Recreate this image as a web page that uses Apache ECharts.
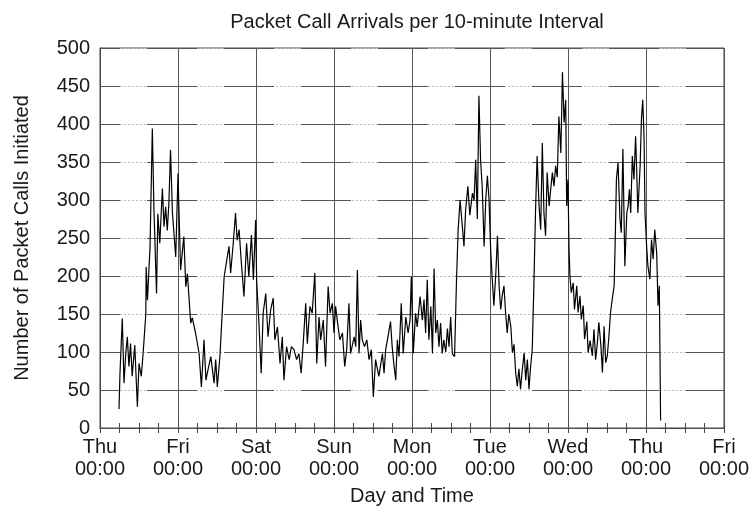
<!DOCTYPE html>
<html><head><meta charset="utf-8">
<script src="https://cdn.jsdelivr.net/npm/echarts/dist/echarts.min.js"></script>
<style>html,body{margin:0;padding:0;background:#fff}#c{width:752px;height:512px}</style>
</head><body><div id="c"></div>
<script>
const titleText = 'Packet Call Arrivals per 10-minute Interval';
const xName = 'Day and Time';
const yName = 'Number of Packet Calls Initiated';
const dayLabels = ['Thu','Fri','Sat','Sun','Mon','Tue','Wed','Thu','Fri'];
const timeLabel = '00:00';
// hours since the first Thursday 00:00
const hours = [
5.85,6.15,6.86,7.38,7.9,8.4,8.9,9.4,9.9,10.7,
11.5,12.0,12.7,13.3,14.1,14.2,14.6,15.4,16.1,16.6,
17.4,17.8,18.4,19.2,19.7,20.2,20.7,21.2,21.7,22.3,
22.8,23.3,24.0,24.8,25.8,26.4,26.9,27.9,28.4,29.4,
30.5,31.2,32.0,32.6,33.0,34.1,35.1,35.6,36.1,36.9,
37.6,38.2,39.0,39.7,40.2,41.0,41.7,42.2,42.8,43.5,
44.3,45.1,45.8,46.6,47.2,47.9,48.2,48.9,49.6,50.2,
51.0,51.7,52.5,53.3,53.8,54.6,55.4,56.1,56.6,57.4,
58.2,58.9,59.7,60.5,61.2,61.9,62.6,63.3,63.8,64.6,
65.3,66.1,66.7,67.4,67.9,68.7,69.4,70.2,70.8,71.5,
72.0,72.5,73.0,73.8,74.6,75.3,75.9,76.6,77.1,78.2,
78.7,79.2,79.7,80.2,80.7,81.4,82.1,82.8,83.5,84.1,
84.8,85.8,86.9,87.4,87.9,88.6,89.4,89.9,90.5,91.0,
91.5,92.0,92.7,93.3,94.1,94.8,95.4,95.8,96.4,97.1,
97.6,98.5,99.2,99.7,100.2,100.7,101.2,101.8,102.3,102.8,
103.3,103.8,104.3,104.8,105.3,105.8,106.4,106.9,107.4,107.9,
108.4,109.1,109.7,110.2,110.8,111.5,112.0,112.5,113.2,113.8,
114.6,115.1,115.6,116.1,116.6,117.1,117.6,118.2,118.7,119.2,
119.7,120.2,120.7,121.2,121.8,122.3,122.8,123.3,123.8,124.3,
124.8,125.3,125.8,126.4,126.9,127.4,127.9,128.4,128.9,129.4,
129.9,130.5,131.0,131.5,132.0,132.5,133.0,133.5,134.0,134.5,
135.1,135.6,136.1,136.6,137.1,137.6,138.2,138.7,139.2,139.7,
140.2,140.7,141.2,141.8,142.3,142.8,143.3,143.6,144.0,144.3,
144.6,145.0,145.6,146.0,146.7,147.1,147.7,148.1,148.7,149.1,
149.8,150.2,150.8,151.5,152.0,152.5,153.0,153.5,154.1,154.6,
155.1,155.6,156.1,156.6,157.1,157.6,158.2,158.5,158.9,159.4,
160.0,160.4,160.9,161.5,162.1,162.5,162.9,163.3,163.8,164.3,
164.8,165.1,165.5,166.2,166.6,167.0,167.4,167.7,168.2,168.6,
169.2,169.7,170.2,170.7,171.3,171.7,172.1,172.5
];
const calls = [
25,72,144,59,96,120,81,111,68,109,
28,85,68,100,150,212,168,239,394,287,
177,282,243,315,265,291,260,296,366,282,
280,225,335,208,252,186,203,138,145,125,
98,54,116,63,72,94,59,90,54,94,
151,199,221,239,204,243,283,247,261,217,
173,243,199,254,195,274,195,138,72,151,
177,120,155,171,116,133,85,120,63,107,
90,107,103,90,98,72,116,164,111,160,
151,204,85,146,116,142,81,186,151,164,
125,160,142,116,125,81,103,164,98,120,
107,208,98,142,116,107,116,90,103,41,
90,68,98,72,103,120,140,107,81,63,
116,94,164,98,146,125,142,199,98,151,
133,173,142,169,125,195,116,160,98,210,
125,142,107,138,98,116,100,131,107,146,
98,94,195,261,300,265,239,287,318,280,
309,300,353,275,437,353,318,239,301,332,
301,235,196,161,204,253,187,156,175,187,
152,125,150,134,99,110,73,55,78,51,
75,99,63,90,51,81,103,187,283,358,
292,261,375,283,253,336,292,315,336,318,
345,330,410,362,468,402,432,292,327,239,
200,178,191,156,187,152,174,143,161,117,
140,99,115,95,130,90,110,139,110,73,
134,86,95,121,152,169,187,239,327,349,
275,257,367,213,283,292,314,283,358,327,
384,345,283,345,406,432,384,283,239,213,
196,248,222,261,230,161,187,10
];
const xMax = 192, xStep = 24, yMax = 500, yStep = 50;

const font = '"Liberation Sans", Arial, Helvetica, sans-serif';
const txt = '#1a1a1a';
const chart = echarts.init(document.getElementById('c'), null, {renderer:'canvas'});
const tickStyle = {color:'#444', width:1};
chart.setOption({
  animation:false,
  backgroundColor:'#fff',
  textStyle:{fontFamily:font},
  title:{text:titleText, left:412, top:7, textAlign:'center',
    textStyle:{fontFamily:font, fontSize:20, fontWeight:'normal', color:txt}},
  grid:{left:100, right:28, top:48, bottom:84, show:true, borderColor:'#444', borderWidth:1},
  xAxis:[{
    type:'value', min:0, max:xMax, interval:xStep, position:'bottom',
    axisLine:{show:true, lineStyle:tickStyle},
    axisTick:{show:true, inside:true, length:5, lineStyle:tickStyle},
    minorTick:{show:true, splitNumber:4, length:5, lineStyle:tickStyle},
    axisLabel:{formatter:v=>dayLabels[Math.round(v/xStep)] + '\n' + timeLabel,
      fontFamily:font, fontSize:20, lineHeight:22, color:txt, margin:8, showMaxLabel:true, showMinLabel:true},
    splitLine:{show:true, lineStyle:{color:'#555', width:1}},
    name:xName, nameLocation:'middle', nameGap:58,
    nameTextStyle:{fontFamily:font, fontSize:20, color:txt}
  },{
    type:'value', min:0, max:xMax, interval:xStep, position:'top',
    axisLine:{show:true, lineStyle:tickStyle},
    axisTick:{show:true, inside:true, length:5, lineStyle:tickStyle},
    minorTick:{show:true, splitNumber:4, length:5, lineStyle:tickStyle},
    axisLabel:{show:false}, splitLine:{show:false}
  }],
  yAxis:[{
    type:'value', min:0, max:yMax, interval:yStep, position:'left', z:1,
    axisLine:{show:true, lineStyle:tickStyle},
    axisTick:{show:false},
    axisLabel:{fontFamily:font, fontSize:20, color:txt, margin:10},
    splitLine:{show:true, lineStyle:{color:'#555', width:1, type:[50,27], dashOffset:30}},
    name:yName, nameLocation:'middle', nameGap:68, nameRotate:90,
    nameTextStyle:{fontFamily:font, fontSize:20, color:txt}
  },{
    type:'value', min:0, max:yMax, interval:yStep, position:'right', z:0,
    axisLine:{show:true, lineStyle:tickStyle},
    axisTick:{show:false}, axisLabel:{show:false},
    splitLine:{show:true, lineStyle:{color:'#bbb', width:1, type:[2,2]}}
  }],
  series:[{
    type:'line', xAxisIndex:0, yAxisIndex:0, z:5,
    data:hours.map((h,i)=>[h, calls[i]]),
    showSymbol:false, symbol:'none',
    lineStyle:{color:'#000', width:1.2}
  }]
});
</script>
</body></html>
